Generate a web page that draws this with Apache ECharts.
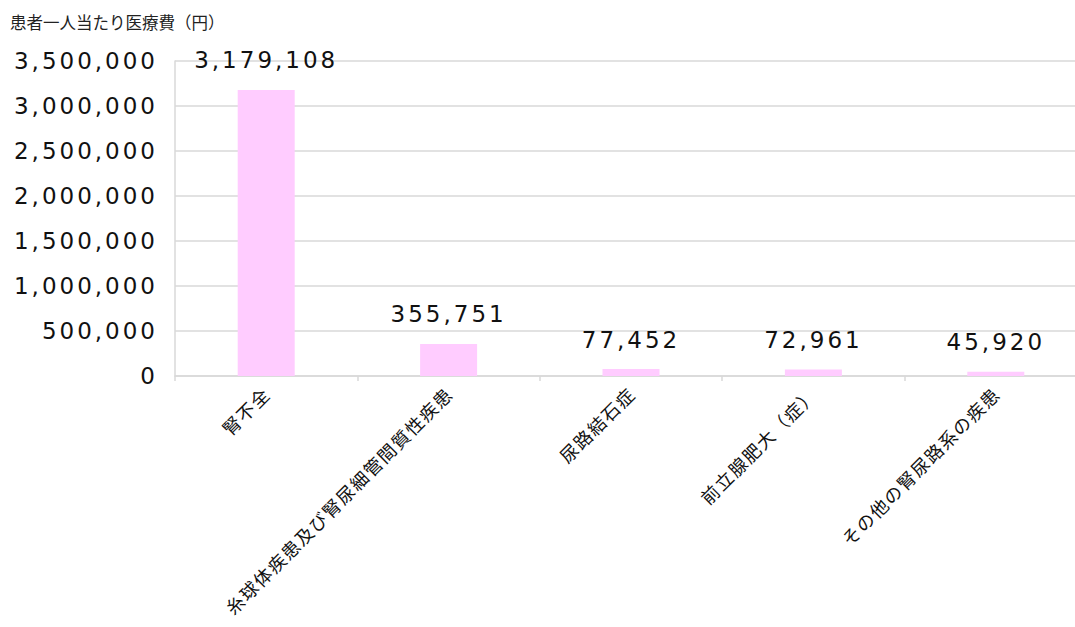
<!DOCTYPE html>
<html lang="ja">
<head>
<meta charset="utf-8">
<title>患者一人当たり医療費</title>
<script src="https://cdn.jsdelivr.net/npm/echarts@6/dist/echarts.min.js"></script>
<style>
  html, body { margin: 0; padding: 0; background: #ffffff; overflow: hidden; }
  #chart { width: 1075px; height: 627px; }
</style>
</head>
<body>
<div id="chart"></div>
<script>
// 疾病分類ごとの患者一人当たり医療費（円）
const categories = [
  '腎不全',
  '糸球体疾患及び腎尿細管間質性疾患',
  '尿路結石症',
  '前立腺肥大（症）',
  'その他の腎尿路系の疾患'
];
const costPerPatient = [3179108, 355751, 77452, 72961, 45920];

// 縦軸の目盛り
const yMin = 0;
const yMax = 3500000;
const yStep = 500000;

const fmt = v => Number(v).toLocaleString('en-US');
const numFont = 'DejaVu Sans, sans-serif';
const jpFont = '"Noto Sans CJK JP", sans-serif';

const chart = echarts.init(document.getElementById('chart'), null, { renderer: 'svg' });

chart.setOption({
  animation: false,
  backgroundColor: '#ffffff',
  title: {
    text: '患者一人当たり医療費（円）',
    left: 5,
    top: 9,
    textStyle: { fontFamily: jpFont, fontSize: 16.5, fontWeight: 'normal', color: '#222' }
  },
  // 描画領域は右端の外側まで続く
  grid: {
    left: 175, width: 912, top: 61, bottom: 251,
    containLabel: false,
    outerBoundsMode: 'none'
  },
  xAxis: {
    type: 'category',
    data: categories,
    axisLine: { show: true, lineStyle: { color: '#d9d9d9', width: 1.5 } },
    axisTick: { show: true, length: 5, lineStyle: { color: '#d9d9d9', width: 1.5 } },
    axisLabel: {
      interval: 0,
      rotate: 45,
      margin: 14,
      fontFamily: jpFont,
      fontSize: 18,
      color: '#111'
    }
  },
  yAxis: {
    type: 'value',
    min: yMin,
    max: yMax,
    interval: yStep,
    axisLine: { show: true, lineStyle: { color: '#d9d9d9', width: 1.5 } },
    axisTick: { show: false },
    splitLine: { lineStyle: { color: '#d9d9d9', width: 1.5 } },
    axisLabel: {
      margin: 17,
      fontFamily: numFont,
      fontSize: 23,
      color: '#111',
      formatter: fmt
    }
  },
  series: [{
    type: 'bar',
    data: costPerPatient,
    barWidth: 57,
    itemStyle: { color: '#ffccff' },
    label: {
      show: true,
      position: 'top',
      distance: 18,
      fontFamily: numFont,
      fontSize: 23,
      color: '#111',
      formatter: p => fmt(p.value)
    }
  }]
});

// 数値ラベルは字間を広げて丸ゴシック風の幅に近づける
function spaceText() {
  const texts = document.querySelectorAll('#chart svg text');
  texts.forEach(t => {
    const s = t.textContent;
    if (/^[\d,]+$/.test(s)) {
      t.style.letterSpacing = '3px';
    } else if (categories.indexOf(s) >= 0) {
      t.style.letterSpacing = '1.5px';
    }
  });
}
spaceText();
chart.on('finished', spaceText);
</script>
</body>
</html>
